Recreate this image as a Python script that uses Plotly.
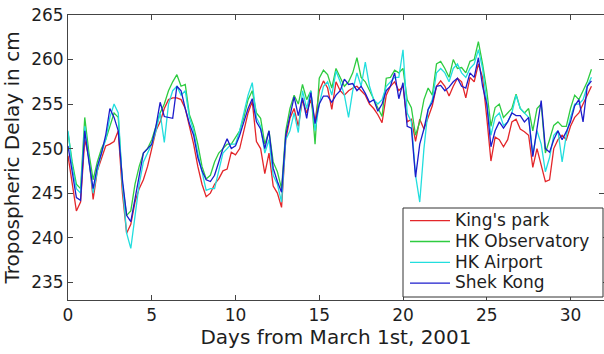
import plotly.graph_objects as go

# Sampling times (days from March 1st, 2001), every 6 hours
days = [i * 0.25 for i in range(126)]

kings_park = [
    249.2, 246.0, 243.0, 244.0,
    251.0, 249.0, 244.3, 247.5,
    248.8, 250.3, 250.5, 250.8,
    252.0, 245.0, 240.5, 241.5,
    244.0, 245.5, 246.5, 248.0,
    250.0, 252.0, 253.0, 254.5,
    255.5, 255.7, 255.7, 255.5,
    254.5, 252.5, 250.5, 248.0,
    246.0, 244.6, 245.0, 246.0,
    246.6, 247.5, 247.7, 249.6,
    249.3, 250.0, 252.0, 254.0,
    255.3, 250.8, 250.0, 247.2,
    249.5, 245.8, 245.0, 243.4,
    251.0, 253.4, 254.5, 252.5,
    255.5, 254.0, 255.5, 253.0,
    256.5, 257.6, 256.8, 254.4,
    257.5, 256.5, 256.0, 256.5,
    256.8, 257.0, 256.5, 256.0,
    255.0, 254.5, 253.8, 252.9,
    256.0, 257.0, 257.5, 256.5,
    257.0, 253.0, 253.3, 250.8,
    253.3, 252.2, 253.5, 254.8,
    257.0, 257.6, 257.0, 255.9,
    257.0, 257.9, 257.5, 255.7,
    258.0, 257.5, 259.5, 258.0,
    253.5, 248.6, 251.3, 251.0,
    250.2, 251.0, 253.0, 253.3,
    252.2, 251.9, 251.5, 247.9,
    250.0, 248.0, 246.3, 246.5,
    250.0, 251.0, 251.5, 251.0,
    252.5, 253.5, 254.0, 255.0,
    256.0, 257.0,
]

hk_observatory = [
    251.8, 248.5, 246.0, 245.5,
    253.5, 249.5, 246.5, 248.5,
    250.0, 251.0, 252.5, 254.0,
    253.5, 246.0, 242.5, 243.0,
    246.0, 248.0, 249.5, 250.0,
    251.0, 252.5, 254.0, 255.0,
    256.5, 257.5, 258.3, 257.0,
    257.2, 253.8, 252.5, 250.5,
    248.0, 246.6, 247.0, 248.5,
    249.5, 250.0, 250.5, 250.5,
    251.3, 252.0, 253.5, 255.5,
    256.5, 254.0, 253.4, 250.5,
    252.0, 248.5, 247.4, 245.5,
    252.0, 254.5, 256.0, 255.0,
    257.2, 255.5, 256.5, 250.5,
    257.9, 258.8, 258.3, 256.8,
    259.0, 258.0, 257.0, 257.5,
    258.5, 260.2, 258.0, 257.5,
    256.5, 255.5, 254.5, 253.6,
    257.9, 258.0, 258.8, 258.5,
    259.0, 255.5, 254.6, 251.5,
    253.0, 255.5, 256.8, 256.0,
    259.5, 259.8, 259.0, 258.0,
    260.0, 259.0, 259.1, 258.5,
    259.8, 260.0, 262.0, 259.5,
    256.5, 252.5, 254.6, 255.0,
    253.5, 254.0, 254.5, 256.1,
    254.5, 254.0, 254.5, 252.0,
    254.5, 255.0, 249.5, 251.0,
    252.6, 253.0, 252.5, 252.5,
    254.5, 256.0, 255.5, 256.5,
    257.5, 258.9,
]

hk_airport = [
    252.0, 248.0, 245.5, 245.0,
    252.5, 249.0, 245.0, 247.5,
    249.5, 251.0, 253.5, 255.0,
    254.0, 246.0, 240.5, 238.8,
    242.5, 246.0, 248.5, 249.5,
    250.5, 252.0, 254.0, 250.7,
    255.0, 256.5, 257.0, 256.0,
    256.5, 253.5, 252.0, 249.5,
    247.5, 245.3, 245.5, 245.5,
    247.5, 249.5, 250.0, 250.5,
    250.5, 252.0, 254.0, 256.0,
    257.4, 253.5, 252.5, 249.5,
    251.0, 247.0, 246.0, 244.0,
    251.0, 252.0, 254.0, 251.8,
    256.5, 254.5, 256.5, 252.0,
    255.0, 257.0, 257.5, 256.0,
    258.7, 257.5, 256.0, 253.5,
    256.5, 258.5, 257.0, 259.7,
    257.0, 255.5, 255.0, 255.5,
    257.0, 257.5, 258.0, 258.0,
    261.1, 254.0, 253.0, 247.0,
    244.0, 250.0, 254.4, 255.5,
    258.5, 259.0, 258.5, 257.5,
    259.0, 259.5, 258.5, 258.0,
    259.0, 259.5, 261.1, 259.0,
    255.5, 251.5, 253.5, 254.0,
    252.6, 253.0, 254.0, 256.0,
    254.5, 254.0, 253.5, 249.3,
    252.0, 250.5, 247.4, 249.0,
    251.5, 252.0, 248.5, 251.5,
    253.5, 255.0, 255.0, 255.5,
    257.0, 258.0,
]

shek_kong = [
    250.3, 247.5, 244.5, 244.2,
    252.0, 248.5, 245.5, 248.0,
    249.5, 251.5, 254.5, 253.5,
    252.0, 246.5, 242.5, 241.8,
    244.5, 247.0, 249.5, 250.0,
    250.5, 252.5, 255.2, 253.6,
    253.5, 253.4, 257.0, 256.5,
    254.5, 252.8, 251.5, 249.0,
    247.5, 246.5, 246.3, 247.0,
    248.5, 250.0, 251.1, 250.0,
    250.3, 251.5, 253.0, 254.5,
    255.6, 253.0, 252.2, 250.0,
    252.0, 247.8, 246.3, 245.1,
    251.5, 253.7, 255.8, 253.7,
    255.7, 253.4, 256.3, 252.8,
    255.0, 255.9, 255.9, 255.2,
    256.0, 256.5, 257.8, 257.2,
    257.3, 256.5, 257.0, 256.2,
    255.2, 255.5, 254.2, 255.0,
    256.5, 257.0, 258.5, 255.6,
    257.4, 252.5, 252.3, 246.8,
    250.5, 252.2, 254.4, 255.2,
    257.0, 257.1, 256.5, 256.9,
    257.5, 257.9, 257.0, 256.8,
    258.5, 258.0, 260.2, 257.0,
    255.0, 250.2, 252.0, 253.0,
    252.3, 253.0, 254.0, 253.7,
    253.7, 253.0, 253.5, 249.1,
    252.0, 255.4, 250.0, 249.6,
    251.0, 252.0, 251.0, 251.9,
    253.0, 254.8, 255.5, 253.0,
    257.0, 257.6,
]

series_names = ["King's park", "HK Observatory", "HK Airport", "Shek Kong"]
series_values = [kings_park, hk_observatory, hk_airport, shek_kong]
series_colors = ["#e3262a", "#2ecc40", "#22dede", "#1c1ccc"]

x_ticks = [0, 5, 10, 15, 20, 25, 30]
y_ticks = [235, 240, 245, 250, 255, 260, 265]

fig = go.Figure()
for name, vals, col in zip(series_names, series_values, series_colors):
    fig.add_trace(go.Scatter(
        x=days, y=vals, mode="lines", name='<span style="font-size:17px">' + name + '</span>',
        line=dict(color=col, width=1.3),
    ))

axis_color = "#444444"
fig.update_layout(
    width=604, height=354,
    margin=dict(l=68, r=0, t=15, b=54, autoexpand=False),
    plot_bgcolor="white", paper_bgcolor="white",
    font=dict(family="DejaVu Sans", size=17, color="#1e1e1e"),
    xaxis=dict(
        range=[0, 32], tickvals=x_ticks, ticks="inside", ticklen=5, tickcolor=axis_color,
        showline=True, linecolor=axis_color, linewidth=1, mirror="allticks",
        showgrid=False, zeroline=False, automargin=False,
        title=dict(text="Days from March 1st, 2001", standoff=4),
    ),
    yaxis=dict(
        range=[233, 265], tickvals=y_ticks, ticks="inside", ticklen=5, tickcolor=axis_color,
        showline=True, linecolor=axis_color, linewidth=1, mirror="allticks",
        showgrid=False, zeroline=False, automargin=False,
        title=dict(text="Tropospheric Delay in cm", standoff=6),
    ),
    showlegend=True,
    legend=dict(
        x=(405 - 68) / 536, y=(300 - 205.3) / 285, xanchor="left", yanchor="top",
        bgcolor="rgba(0,0,0,0)", borderwidth=0, font=dict(size=13.7),
        itemwidth=40, tracegroupgap=0,
    ),
    shapes=[dict(
        type="rect", xref="paper", yref="paper",
        x0=(403 - 68) / 536, x1=(603 - 68) / 536,
        y0=(300 - 297) / 285, y1=(300 - 208) / 285,
        line=dict(color="#333333", width=1), fillcolor="white", layer="above",
    )],
)

fig.write_html("out.html")
